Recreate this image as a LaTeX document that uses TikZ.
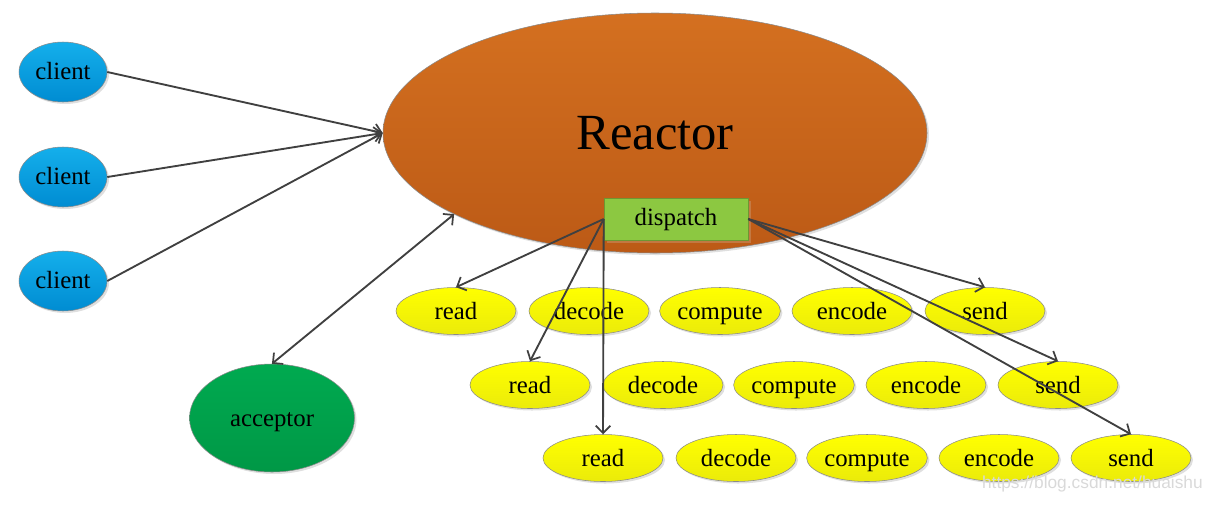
\documentclass[tikz,border=0pt]{standalone}
\usepackage{fontspec}
\setmainfont{Liberation Serif}
\newfontfamily\wmfont{Liberation Sans}
\usetikzlibrary{shapes.geometric,arrows.meta,shadows}
\definecolor{lineg}{HTML}{404040}
\definecolor{bordg}{HTML}{8A8A8A}
\tikzset{
  sh/.style={drop shadow={opacity=0.25,shadow xshift=1.5pt,shadow yshift=-1.5pt}},
  txt/.style={font=\fontsize{18.6pt}{20pt}\selectfont,text height=12.6pt,text depth=0pt},
  client/.style={ellipse,draw=bordg,line width=0.4pt,sh,top color={rgb,255:red,20;green,175;blue,235},bottom color={rgb,255:red,0;green,140;blue,210},
     minimum width=66pt,minimum height=45pt,inner sep=0pt,txt,text height=11pt},
  reactor/.style={ellipse,draw=bordg,line width=0.4pt,sh,top color={rgb,255:red,212;green,112;blue,32},bottom color={rgb,255:red,188;green,90;blue,22},
     minimum width=408pt,minimum height=180pt,inner sep=0pt,font=\fontsize{38pt}{40pt}\selectfont},
  acc/.style={ellipse,draw=bordg,line width=0.4pt,sh,top color={rgb,255:red,0;green,170;blue,80},bottom color={rgb,255:red,0;green,152;blue,70},
     minimum width=123.75pt,minimum height=81pt,inner sep=0pt,txt},
  task/.style={ellipse,draw=bordg,line width=0.4pt,sh,top color={rgb,255:red,255;green,255;blue,0},bottom color={rgb,255:red,235;green,235;blue,10},
     minimum width=90pt,minimum height=35.25pt,inner sep=0pt,txt},
  disp/.style={rectangle,draw={rgb,255:red,110;green,150;blue,50},line width=0.4pt,fill={rgb,255:red,140;green,200;blue,65},
     drop shadow={opacity=0.5,fill={rgb,255:red,200;green,150;blue,110},shadow xshift=2.5pt,shadow yshift=-2.5pt},
     minimum width=108pt,minimum height=31.5pt,inner sep=0pt,txt,text height=9.5pt},
  tip/.tip={Straight Barb[length=5.5pt,width=11pt,line width=1.3pt]},
  conn/.style={draw=lineg,line width=1.4pt,-tip},
  conn2/.style={draw=lineg,line width=1.4pt,tip-tip},
}
\begin{document}
\begin{tikzpicture}[x=0.75pt,y=-0.75pt]
\useasboundingbox (0,0) rectangle (1209,504);
\node[reactor] (reactor) at (655,133) {Reactor};
\node[disp] (dispatch) at (676,219) {dispatch};
\node[client] (c1) at (63,72) {client};
\node[client] (c2) at (63,177) {client};
\node[client] (c3) at (63,281) {client};
\node[acc] (acceptor) at (272,418) {acceptor};
% row 1
\node[task] (r1) at (456,311) {read};
\node[task] (d1) at (589,311) {decode};
\node[task] (p1) at (720,311) {compute};
\node[task] (e1) at (852,311) {encode};
\node[task] (s1) at (985,311) {send};
% row 2
\node[task] (r2) at (530,385) {read};
\node[task] (d2) at (663,385) {decode};
\node[task] (p2) at (794,385) {compute};
\node[task] (e2) at (926,385) {encode};
\node[task] (s2) at (1058,385) {send};
% row 3
\node[task] (r3) at (603,458) {read};
\node[task] (d3) at (736,458) {decode};
\node[task] (p3) at (867,458) {compute};
\node[task] (e3) at (999,458) {encode};
\node[task] (s3) at (1131,458) {send};
% connectors
\draw[conn] (c1.east) -- (reactor.west);
\draw[conn] (c2.east) -- (reactor.west);
\draw[conn] (c3.east) -- (reactor.west);
\draw[conn2] (acceptor.north) -- (reactor.202);
\draw[conn] (dispatch.west) -- (r1.north);
\draw[conn] (dispatch.west) -- (r2.north);
\draw[conn] (dispatch.west) -- (r3.north);
\draw[conn] (dispatch.east) -- (s1.north);
\draw[conn] (dispatch.east) -- (s2.north);
\draw[conn] (dispatch.east) -- (s3.north);
\node[font=\wmfont\fontsize{13pt}{14pt}\selectfont,text=gray!30,anchor=east,inner sep=0pt] (wm) at (1203,484) {https://blog.csdn.net/huaishu};
\end{tikzpicture}
\end{document}
